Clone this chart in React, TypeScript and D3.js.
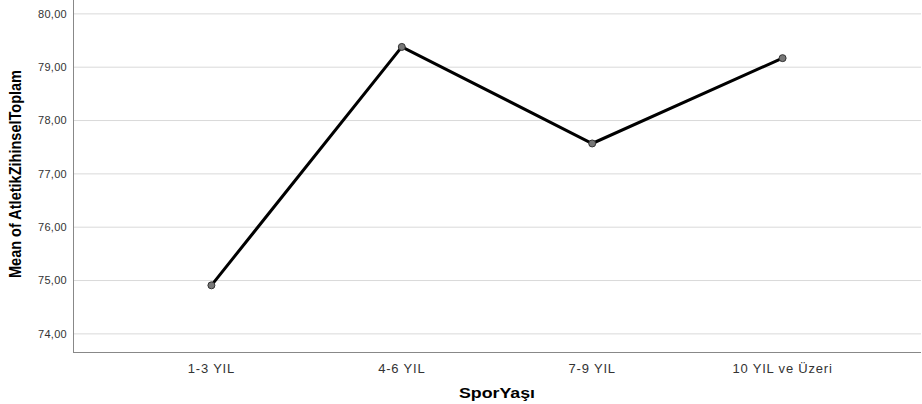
import React from "react";
import * as d3 from "d3";

const categories = ["1-3 YIL", "4-6 YIL", "7-9 YIL", "10 YIL ve Üzeri"];
const means = [74.91, 79.38, 77.57, 79.17];
const yTicks = [74, 75, 76, 77, 78, 79, 80];

const W = 922, H = 404;
const left = 73, right = 921, top = 0, bottom = 352;

export default function App() {
  const x = d3.scalePoint<string>().domain(categories).range([left, right]).padding(0.727);
  const y = d3.scaleLinear().domain([73.66, 80.26]).range([bottom, top]);
  const line = d3.line<number>().x((_, i) => x(categories[i])!).y(d => y(d));
  const fmt = (v: number) => v.toFixed(2).replace(".", ",");
  return (
    <svg width={W} height={H} style={{ position: "absolute", left: 0, top: 0, background: "#fff" }}>
      {yTicks.map(t => (
        <g key={t}>
          <line x1={left} x2={right} y1={y(t)} y2={y(t)} stroke="#d9d9d9" strokeWidth={1} />
          <text x={67} y={y(t)} dy="0.35em" textAnchor="end" fontFamily="Liberation Sans, Arial, sans-serif" fontSize={11} letterSpacing={0.3} fill="#333">{fmt(t)}</text>
        </g>
      ))}
      <line x1={left + 0.5} x2={left + 0.5} y1={top} y2={bottom} stroke="#888" strokeWidth={1} />
      <line x1={left} x2={right} y1={bottom + 0.5} y2={bottom + 0.5} stroke="#888" strokeWidth={1} />
      {categories.map(c => (
        <text key={c} x={x(c)} y={368} dy="0.35em" textAnchor="middle" fontFamily="Liberation Sans, Arial, sans-serif" fontSize={13} letterSpacing={0.8} fill="#333">{c}</text>
      ))}
      <path d={line(means)!} fill="none" stroke="#000" strokeWidth={3} strokeLinejoin="miter" />
      {means.map((m, i) => (
        <circle key={i} cx={x(categories[i])} cy={y(m)} r={3.5} fill="#777" stroke="#333" strokeWidth={1} />
      ))}
      <text x={497} y={393} dy="0.35em" textAnchor="middle" fontFamily="Liberation Sans, Arial, sans-serif" fontWeight="bold" fontSize={14} textLength={76} lengthAdjust="spacingAndGlyphs" fill="#000">SporYaşı</text>
      <text transform={`translate(15,174) rotate(-90)`} dy="0.35em" textAnchor="middle" fontFamily="Liberation Sans, Arial, sans-serif" fontWeight="bold" fontSize={16} textLength={208} lengthAdjust="spacingAndGlyphs" fill="#000">Mean of AtletikZihinselToplam</text>
    </svg>
  );
}
